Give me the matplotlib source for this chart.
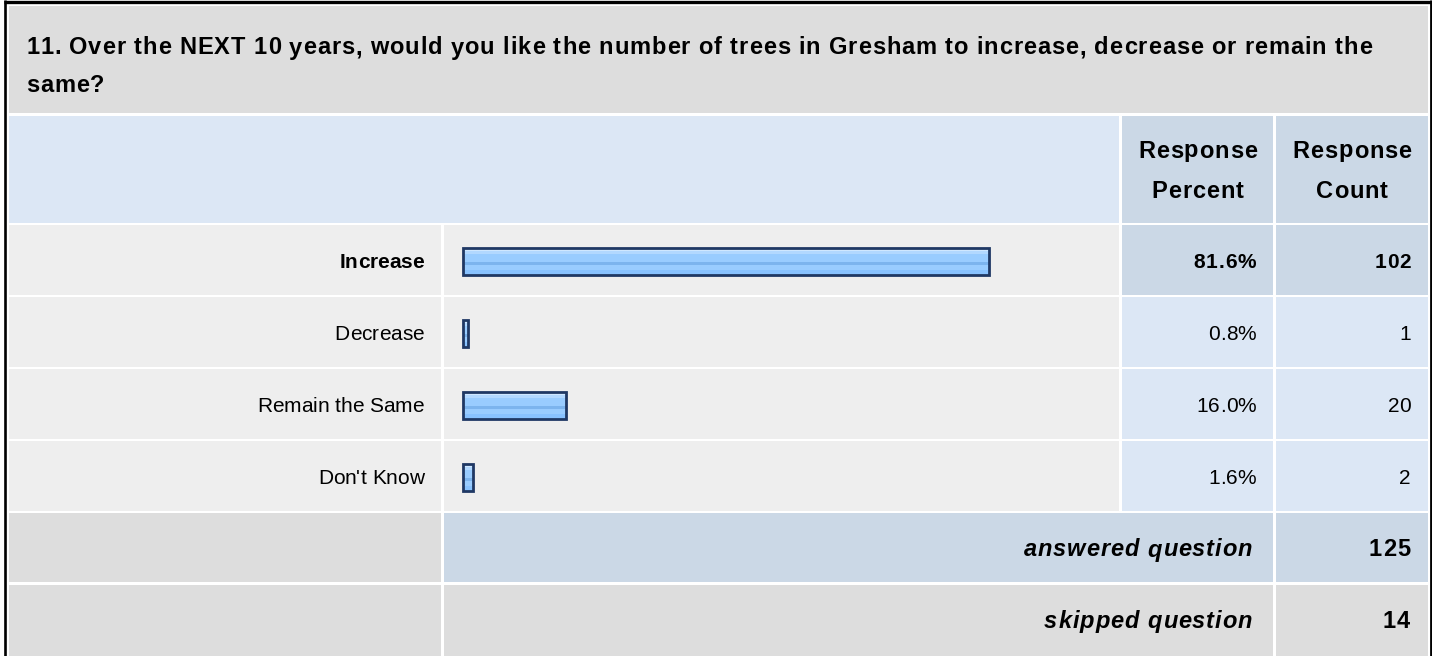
import matplotlib
matplotlib.use("Agg")
import matplotlib.pyplot as plt
from matplotlib.patches import Rectangle
from matplotlib.font_manager import FontProperties, findfont, get_font

# ---- survey data -------------------------------------------------------
question = ("11. Over the NEXT 10 years, would you like the number of trees in Gresham "
            "to increase, decrease or remain the\nsame?")
choices = ["Increase", "Decrease", "Remain the Same", "Don't Know"]
percents = [81.6, 0.8, 16.0, 1.6]
counts = [102, 1, 20, 2]
answered = 125
skipped = 14
header_pct = "Response\nPercent"
header_cnt = "Response\nCount"

# ---- styling -----------------------------------------------------------
FONT = "Liberation Sans"
FS_CELL = 15      # table cell text
FS_HEAD = 17      # question, column headers and summary captions
DPI = 100
C_GRAY = "#DDDDDD"
C_LIGHT = "#EEEEEE"
C_BLUE_L = "#DCE7F5"
C_BLUE_D = "#CBD8E6"
C_EDGE = "#1F3864"

W, H = 1432, 656
fig = plt.figure(figsize=(W / DPI, H / DPI), dpi=DPI)
fig.patch.set_facecolor("white")

bg = fig.add_axes([0, 0, 1, 1])
bg.set_xlim(0, W)
bg.set_ylim(H, 0)
bg.axis("off")


def cell(x0, x1, y0, y1, color):
    bg.add_patch(Rectangle((x0, y0), x1 - x0, y1 - y0, facecolor=color,
                           edgecolor="none", zorder=1))


def advances(s, prop):
    """Horizontal advance of each character, in pixels."""
    font = get_font(findfont(prop))
    font.set_size(prop.get_size_in_points(), DPI)
    out = []
    for ch in s:
        g = font.load_char(ord(ch))
        out.append(g.linearHoriAdvance / 65536)
    return out


def txt(x, y, s, ha="right", weight="normal", style="normal", size=FS_CELL,
        track=0.0):
    """Text on the pixel grid with optional letter spacing."""
    prop = FontProperties(family=FONT, size=size, weight=weight, style=style)
    adv = advances(s, prop)
    total = sum(adv) + track * (len(s) - 1)
    if ha == "right":
        x0 = x - total
    elif ha == "center":
        x0 = x - total / 2
    else:
        x0 = x
    for ch, a in zip(s, adv):
        if ch != " ":
            bg.text(x0, y, ch, ha="left", va="baseline", fontproperties=prop,
                    color="#000000", zorder=3)
        x0 += a + track


def head(x, y, s, ha="right", style="normal"):
    txt(x, y, s, ha=ha, weight="bold", style=style, size=FS_HEAD, track=0.9)


# column edges
L0, L1 = 9, 441      # label column
B0, B1 = 444, 1119   # bar column
P0, P1 = 1122, 1273  # percent column
N0, N1 = 1276, 1428  # count column

# title row
cell(L0, N1, 6, 113, C_GRAY)
line1, line2 = question.split("\n")
head(26, 54.5, line1, ha="left")
head(26, 91.5, line2, ha="left")

# header row
cell(L0, B1, 116, 223, C_BLUE_L)
cell(P0, P1, 116, 223, C_BLUE_D)
cell(N0, N1, 116, 223, C_BLUE_D)
for xc, lab in [((P0 + P1) / 2, header_pct), ((N0 + N1) / 2, header_cnt)]:
    a, b = lab.split("\n")
    head(xc, 157.5, a, ha="center")
    head(xc, 198.5, b, ha="center")

# answer rows
row_edges = [(225, 295), (297, 367), (369, 439), (441, 511)]
top = max(range(len(percents)), key=lambda i: percents[i])
for i, (y0, y1) in enumerate(row_edges):
    is_top = i == top
    side = C_BLUE_D if is_top else C_BLUE_L
    cell(L0, L1, y0, y1, C_LIGHT)
    cell(B0, B1, y0, y1, C_LIGHT)
    cell(P0, P1, y0, y1, side)
    cell(N0, N1, y0, y1, side)
    base = (y0 + y1) / 2 + 7.5
    w = "bold" if is_top else "normal"
    tr = 0.8 if is_top else 0.0
    txt(424, base, choices[i], weight=w, track=0.0)
    txt(1256, base, f"{percents[i]:.1f}%", weight=w, track=tr)
    txt(1411, base, f"{counts[i]}", weight=w, track=tr)

# summary rows
cell(L0, L1, 513, 582, C_GRAY)
cell(B0, P1, 513, 582, C_BLUE_D)
cell(N0, N1, 513, 582, C_BLUE_D)
head(1252, 556.5, "answered question", style="italic")
head(1410, 556.5, f"{answered}")

cell(L0, L1, 585, 660, C_GRAY)
cell(B0, P1, 585, 660, C_GRAY)
cell(N0, N1, 585, 660, C_GRAY)
head(1252, 628, "skipped question", style="italic")
head(1410, 628, f"{skipped}")

# outer frame
bg.plot([5.3, 5.3], [0, H + 2], color="black", lw=1.9, zorder=4,
        solid_capstyle="butt")
bg.plot([4, W], [1.6, 1.6], color="black", lw=2.4, zorder=4,
        solid_capstyle="butt")
bg.plot([1430.6, 1430.6], [0, H + 2], color="black", lw=2.0, zorder=4,
        solid_capstyle="butt")

# ---- bars (percent scale, 6.45 px per percent, zero at x=463) ----------
PX = 6.45
X0 = 463
ax = fig.add_axes([B0 / W, 1 - 513.5 / H, (B1 - B0) / W, 288 / H])
ax.set_xlim(-(X0 - B0) / PX, (B1 - X0) / PX)
ax.set_ylim(len(choices) - 0.5, -0.5)
ax.axis("off")
ax.patch.set_alpha(0)

bar_h = 27 / 72
# horizontal glossy stripes, top to bottom (fractions of bar height)
stripes = [
    (0.00, 0.12, "#CFE7FF"),
    (0.12, 0.24, "#B2D8FF"),
    (0.24, 0.50, "#99CCFF"),
    (0.50, 0.64, "#7CB4EE"),
    (0.64, 0.82, "#99CCFF"),
    (0.82, 1.00, "#88C2FF"),
]
ypos = list(range(len(choices)))
for f0, f1, col in stripes:
    centers = [y - bar_h / 2 + bar_h * (f0 + f1) / 2 for y in ypos]
    ax.barh(centers, percents, height=bar_h * (f1 - f0), left=0,
            color=col, edgecolor="none", zorder=2)
ax.barh(ypos, percents, height=bar_h, left=0, fill=False,
        edgecolor=C_EDGE, linewidth=2.0, zorder=3)

fig.savefig("out.png", dpi=DPI, facecolor="white")
